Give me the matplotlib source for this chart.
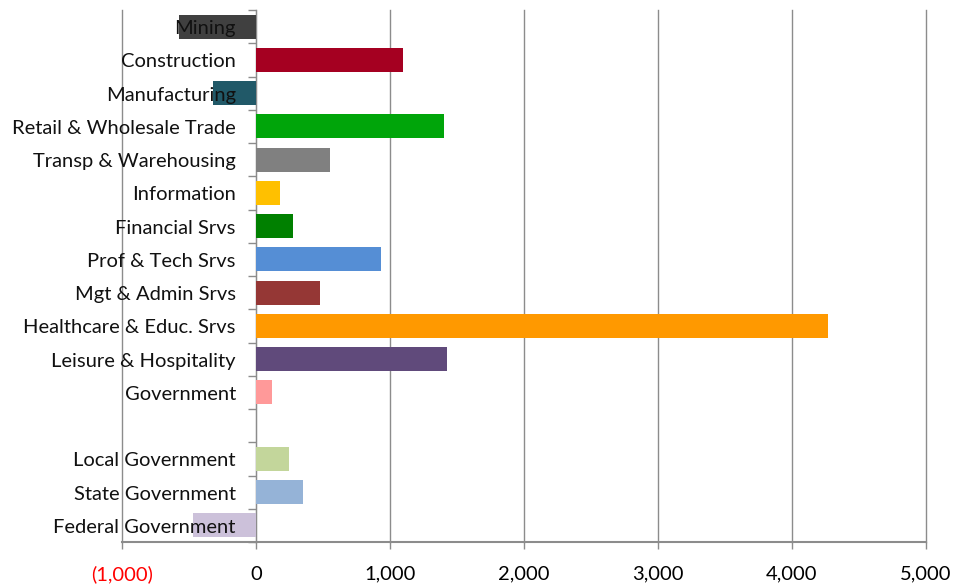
import numpy as np
import matplotlib
matplotlib.use("Agg")
import matplotlib.pyplot as plt
from matplotlib.ticker import FuncFormatter, MultipleLocator

# jobs change by sector (thousands)
sectors = ["Mining", "Construction", "Manufacturing", "Retail & Wholesale Trade",
           "Transp & Warehousing", "Information", "Financial Srvs", "Prof & Tech Srvs",
           "Mgt & Admin Srvs", "Healthcare & Educ. Srvs", "Leisure & Hospitality",
           "Government", "Local Government", "State Government", "Federal Government"]
changes = [-575, 1097, -321, 1403, 552, 179, 276, 933, 478, 4265, 1425, 116, 246, 351, -470]
colors = ["#404040", "#A50021", "#215968", "#00A50A", "#808080", "#FFC000", "#008000",
          "#558ED5", "#953735", "#FF9900", "#604A7B", "#FF9999", "#C3D69B", "#95B3D7",
          "#CCC1DA"]

# one empty slot between Government and its breakdown
slots = [i if i < 12 else i + 1 for i in range(len(sectors))]

plt.rcParams['font.family'] = ['Lato', 'DejaVu Sans']

fig = plt.figure(figsize=(9.55, 5.86), dpi=100)
ax = fig.add_axes([122 / 955, 1 - 542 / 586, (926 - 122) / 955, (542 - 10) / 586])

ax.barh(slots, changes, height=0.72, color=colors, zorder=2)

for s, name in zip(slots, sectors):
    ax.annotate(name, xy=(0, s), xytext=(-14.5, -1.5), textcoords="offset points",
                ha="right", va="center", fontsize=14.5, color="#111111", zorder=3)

ax.set_xlim(-1000, 5000)
ax.set_ylim(15.5, -0.5)
ax.xaxis.set_major_locator(MultipleLocator(1000))
ax.grid(axis="x", color="#8c8c8c", linewidth=1, zorder=0)
for gl in ax.get_xgridlines():
    gl.set_clip_on(False)

def fmt(v, pos):
    if v < 0:
        return "({:,.0f})".format(-v)
    return "{:,.0f}".format(v)

ax.xaxis.set_major_formatter(FuncFormatter(fmt))
ax.tick_params(axis="x", length=5, width=1, color="#8c8c8c", labelsize=14.5, pad=12)

ax.set_yticks([])
ax.set_yticks(np.arange(-0.5, 16.0, 1.0), minor=True)
ax.tick_params(axis="y", which="minor", length=6, width=1, color="#8c8c8c", direction="out")

for side in ["top", "right"]:
    ax.spines[side].set_visible(False)
ax.spines["left"].set_position(("data", 0))
ax.spines["left"].set_color("#8c8c8c")
ax.spines["left"].set_zorder(1)
ax.spines["bottom"].set_color("#8c8c8c")
ax.spines["bottom"].set_linewidth(1.5)

fig.canvas.draw()
for lab in ax.get_xticklabels():
    if lab.get_text().startswith("("):
        lab.set_color("red")

fig.savefig("out.png", dpi=100)
